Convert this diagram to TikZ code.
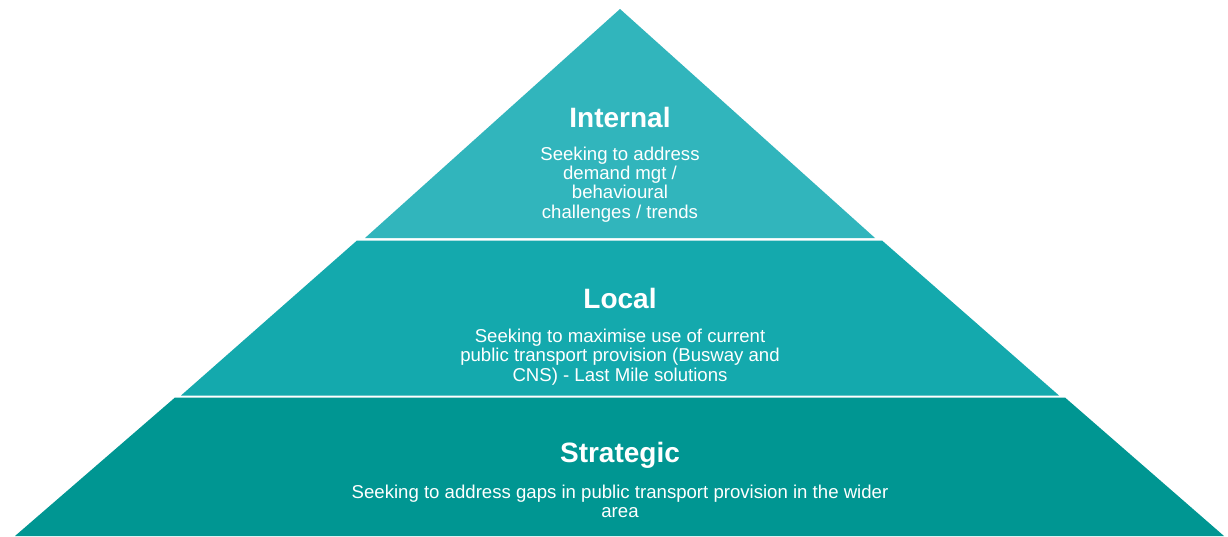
\documentclass[tikz,border=0pt]{standalone}
\usepackage{fontspec}
\setmainfont{Liberation Sans}
\definecolor{topc}{RGB}{49,181,188}
\definecolor{midc}{RGB}{20,169,173}
\definecolor{botc}{RGB}{0,150,146}
\tikzset{
  layertitle/.style={text=white, font=\fontsize{28}{30}\selectfont\bfseries, anchor=base, inner sep=0pt},
  layerbody/.style={text=white, font=\fontsize{18.6}{19.3}\selectfont, align=center, anchor=base, inner sep=0pt}
}
\begin{document}
\begin{tikzpicture}[x=1pt,y=-1pt]
\fill[white] (0,0) rectangle (1228,536);
\useasboundingbox (0,0) rectangle (1228,536);
% layers
\fill[topc] (620,9) -- (875,238) -- (365,238) -- cycle;
\fill[midc] (357,240.5) -- (882,240.5) -- (1059,395.5) -- (181,395.5) -- cycle;
\fill[botc] (175,397.5) -- (1065,397.5) -- (1224,536) -- (15,536) -- cycle;
% texts (base anchor = baseline of last line)
\node[layertitle] (t1) at (620,127) {Internal};
\node[layerbody] (b1) at (620,218) {Seeking to address\\demand mgt /\\behavioural\\challenges / trends};
\node[layertitle] (t2) at (620,308) {Local};
\node[layerbody] (b2) at (620,381) {Seeking to maximise use of current\\public transport provision (Busway and\\CNS) - Last Mile solutions};
\node[layertitle] (t3) at (620,462.5) {Strategic};
\node[layerbody] (b3) at (620,517.5) {Seeking to address gaps in public transport provision in the wider\\area};
\end{tikzpicture}
\end{document}
